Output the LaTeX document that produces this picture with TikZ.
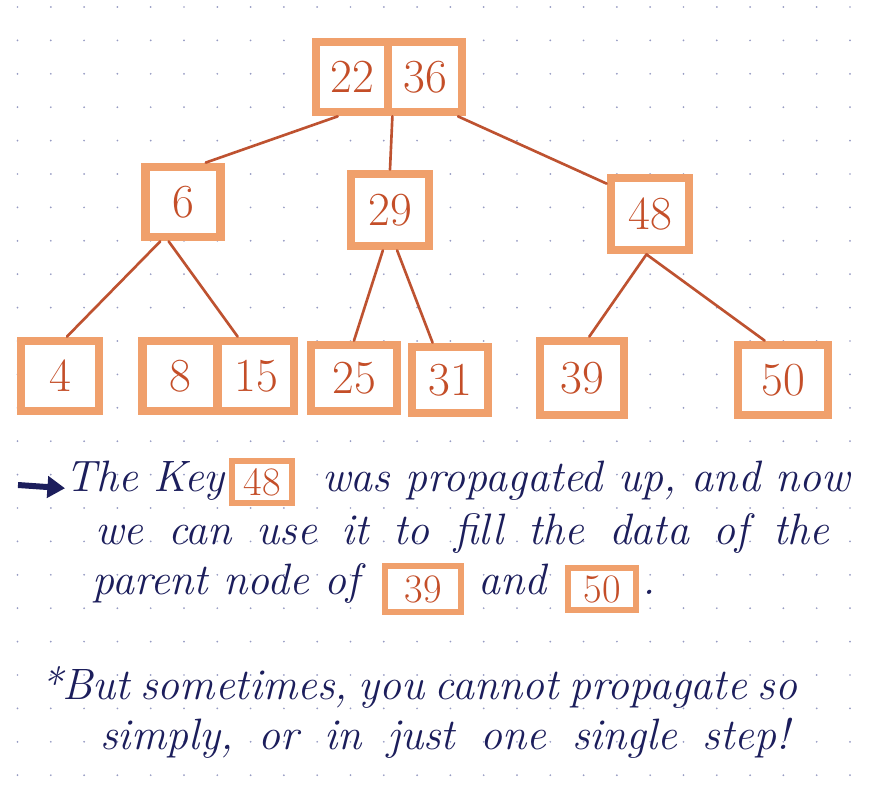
\documentclass[tikz,border=0pt]{standalone}
\usepackage{fontspec}
\usetikzlibrary{arrows.meta}
\definecolor{boxor}{RGB}{240,160,108}
\definecolor{numor}{RGB}{196,78,40}
\definecolor{edgeor}{RGB}{190,82,48}
\definecolor{ink}{RGB}{28,30,92}
\definecolor{dotc}{RGB}{150,155,195}
\begin{document}
\begin{tikzpicture}[x=0.02cm,y=-0.02cm,
  keybox/.style={draw=boxor, line width=5pt, fill=white, text=numor,
    font=\fontsize{27}{29}\selectfont, minimum width=1.5cm, minimum height=1.4cm, inner sep=0pt},
  smallkey/.style={keybox, line width=3.6pt, font=\fontsize{23}{25}\selectfont},
  edge/.style={draw=edgeor, line width=1.5pt, line cap=round},
  txt/.style={text=ink, font=\itshape\fontsize{25}{28}\selectfont, anchor=base west, inner sep=0pt},
]
\useasboundingbox (0,0) rectangle (880,803);
\fill[white] (0,0) rectangle (880,803);
% dotted paper
\foreach \i in {0,...,26}{\foreach \j in {0,...,24}{\fill[dotc] (17.5+33.3*\i,7+33.4*\j) circle (0.55pt);}}

% tree nodes
\node[keybox, minimum width=1.44cm] (r22) at (352,77) {22};
\node[keybox, minimum width=1.48cm] (r36) at (425,77) {36};
\node[keybox] (n6) at (183,202) {6};
\node[keybox, minimum width=1.56cm, minimum height=1.44cm] (n29) at (390,210) {29};
\node[keybox, minimum width=1.56cm, minimum height=1.44cm] (n48) at (650,214) {48};
\node[keybox, minimum width=1.56cm] (l4) at (60,376) {4};
\node[keybox] (l8) at (180,376) {8};
\node[keybox, minimum width=1.52cm] (l15) at (256,376) {15};
\node[keybox, minimum width=1.72cm, minimum height=1.32cm] (l25) at (354,378) {25};
\node[keybox, minimum width=1.52cm, minimum height=1.32cm] (l31) at (450,380) {31};
\node[keybox, minimum width=1.68cm, minimum height=1.48cm] (l39) at (582,378) {39};
\node[keybox, minimum width=1.8cm] (l50) at (783,380) {50};

% connectors
\draw[edge] (r22.-110) -- (n6.60);
\draw[edge] (r22.south east) -- (n29.north);
\draw[edge] (r36.-50) -- (n48.145);
\draw[edge] (n6.-120) -- (l4.80);
\draw[edge] (n6.-110) -- (l15.115);
\draw[edge] (n29.-100) -- (l25.north);
\draw[edge] (n29.-80) -- (l31.115);
\draw[edge] (n48.-95) -- (l39.80);
\draw[edge] (n48.-95) -- (l50.115);

% text
\node[txt] (t1a) at (65,492) {The Key};
\node[smallkey, minimum width=1.2cm, minimum height=0.84cm] (k48) at (262,482) {48};
\node[txt] (t1b) at (322,492) {was propagated up, and now};
\coordinate (arrS) at (18,485);
\draw[ink, line width=3.4pt, -{Triangle[length=10pt,width=12pt]}] (arrS) -- ([yshift=-4pt]t1a.west);
\node[txt] (t2) at (95,545) {\spaceskip=14pt\relax we can use it to fill the data of the};
\node[txt] (t3a) at (92,595) {parent node of};
\node[smallkey, minimum width=1.52cm, minimum height=0.92cm] (k39) at (423,589) {39};
\node[txt] (t3b) at (478,595) {and};
\node[smallkey, minimum width=1.36cm, minimum height=0.84cm] (k50) at (602,589) {50};
\node[txt] (t3c) at (642,595) {.};
\node[txt] (t4) at (40,700) {\spaceskip=6pt\relax *But sometimes, you cannot propagate so};
\node[txt] (t5) at (100,750) {\spaceskip=14.5pt\relax simply, or in just one single step!};
\end{tikzpicture}
\end{document}
